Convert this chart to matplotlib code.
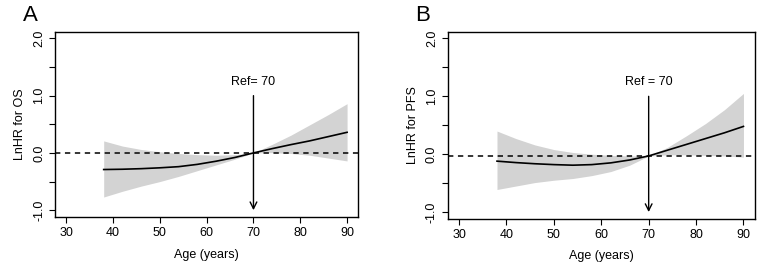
import matplotlib.pyplot as plt
import numpy as np

plt.rcParams['font.family'] = ['Liberation Sans', 'DejaVu Sans']

# values
age = [38, 42, 46, 50, 54, 58, 62, 66, 70, 74, 78, 82, 86, 90]

os_fit = [-0.29, -0.285, -0.275, -0.26, -0.24, -0.20, -0.145, -0.08,
          0.0, 0.075, 0.145, 0.21, 0.285, 0.36]
os_upper = [0.21, 0.12, 0.06, 0.02, -0.01, -0.03, -0.04, -0.03,
            0.0, 0.15, 0.31, 0.49, 0.67, 0.86]
os_lower = [-0.77, -0.67, -0.58, -0.50, -0.41, -0.31, -0.21, -0.11,
            0.0, 0.005, -0.01, -0.04, -0.09, -0.14]

pfs_fit = [-0.12, -0.145, -0.165, -0.18, -0.19, -0.18, -0.15, -0.10,
           -0.03, 0.07, 0.17, 0.27, 0.37, 0.48]
pfs_upper = [0.40, 0.27, 0.16, 0.08, 0.03, 0.0, -0.02, -0.03,
             -0.03, 0.12, 0.32, 0.53, 0.77, 1.05]
pfs_lower = [-0.61, -0.55, -0.49, -0.45, -0.42, -0.37, -0.30, -0.19,
             -0.03, -0.01, -0.01, -0.02, -0.03, -0.05]

ref_age = 70
panels = [
    ('A', 'LnHR for OS', 'Ref= 70', os_fit, os_upper, os_lower, 0.0),
    ('B', 'LnHR for PFS', 'Ref = 70', pfs_fit, pfs_upper, pfs_lower, -0.03),
]
boxes = [[0.072, 0.222, 0.397, 0.663], [0.586, 0.215, 0.402, 0.670]]

fig = plt.figure(figsize=(7.64, 2.79), dpi=100)

for (tag, ylab, reftxt, fit, up, lo, base), box in zip(panels, boxes):
    ax = fig.add_axes(box)
    ax.fill_between(age, lo, up, color='#d3d3d3', lw=0)
    ax.plot(age, fit, color='black', lw=1.2)
    ax.axhline(base, color='black', lw=1.1, ls=(0, (3.5, 3)))
    ax.annotate('', xy=(ref_age, -1.0), xytext=(ref_age, 1.0),
                arrowprops=dict(arrowstyle='->', color='black', lw=1.0,
                                mutation_scale=12, shrinkA=0, shrinkB=0))
    ax.text(ref_age, 1.24, reftxt, ha='center', va='center', fontsize=9)

    ax.set_xlim(27.6, 92.4)
    ax.set_ylim(-1.12, 2.11)
    ax.set_xticks(range(30, 91, 10))
    ax.set_yticks(np.arange(-1.0, 2.01, 0.5))
    ax.set_yticklabels(['-1.0', '', '0.0', '', '1.0', '', '2.0'],
                       rotation=90, va='center')
    ax.tick_params(direction='out', length=4, width=0.8, labelsize=9,
                   pad=3)
    for s in ax.spines.values():
        s.set_linewidth(1.0)
    ax.set_xlabel('Age (years)', fontsize=9, labelpad=7)
    ax.set_ylabel(ylab, fontsize=9, labelpad=5)
    fig.text(box[0] - 0.042, 0.945, tag, fontsize=16, va='center', ha='left')

fig.savefig('out.png', dpi=100)
